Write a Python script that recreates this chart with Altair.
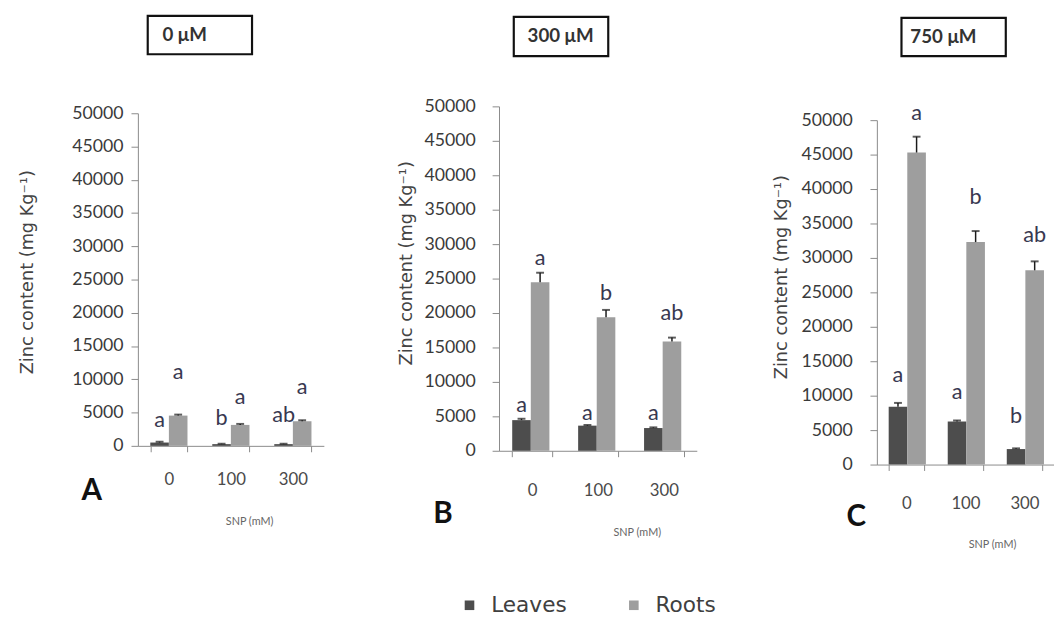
import altair as alt
import pandas as pd

# ---------------- data ----------------
snp_levels = ["0", "100", "300"]
tissues = ["Leaves", "Roots"]

# Panel A : 0 µM
a_leaves = [500, 260, 260]
a_leaves_err = [120, 60, 60]
a_roots = [4550, 3150, 3700]
a_roots_err = [150, 150, 150]
a_leaves_letters = ["a", "b", "ab"]
a_roots_letters = ["a", "a", "a"]
a_leaves_letter_y = [3900, 4100, 4600]
a_roots_letter_y = [11100, 7400, 8900]

# Panel B : 300 µM
b_leaves = [4450, 3650, 3300]
b_leaves_err = [200, 100, 100]
b_roots = [24450, 19400, 15850]
b_roots_err = [1400, 1050, 580]
b_leaves_letters = ["a", "a", "a"]
b_roots_letters = ["a", "b", "ab"]
b_leaves_letter_y = [6600, 5500, 5500]
b_roots_letter_y = [27900, 22900, 20000]

# Panel C : 750 µM
c_leaves = [8400, 6250, 2250]
c_leaves_err = [550, 150, 100]
c_roots = [45300, 32300, 28200]
c_roots_err = [2300, 1600, 1300]
c_leaves_letters = ["a", "a", "b"]
c_roots_letters = ["a", "b", "ab"]
c_leaves_letter_y = [13000, 10500, 7000]
c_roots_letter_y = [51000, 38800, 33300]

titles = ["0 μM", "300 μM", "750 μM"]
panel_letters = ["A", "B", "C"]
y_ticks = [0, 5000, 10000, 15000, 20000, 25000, 30000, 35000, 40000, 45000, 50000]


def table(leaves, leaves_err, roots, roots_err, l_let, r_let, l_y, r_y):
    rows = []
    for i, s in enumerate(snp_levels):
        rows.append(dict(snp=s, tissue="Leaves", value=leaves[i],
                         hi=leaves[i] + leaves_err[i], letter=l_let[i], ly=l_y[i]))
        rows.append(dict(snp=s, tissue="Roots", value=roots[i],
                         hi=roots[i] + roots_err[i], letter=r_let[i], ly=r_y[i]))
    return pd.DataFrame(rows)


dfs = [
    table(a_leaves, a_leaves_err, a_roots, a_roots_err,
          a_leaves_letters, a_roots_letters, a_leaves_letter_y, a_roots_letter_y),
    table(b_leaves, b_leaves_err, b_roots, b_roots_err,
          b_leaves_letters, b_roots_letters, b_leaves_letter_y, b_roots_letter_y),
    table(c_leaves, c_leaves_err, c_roots, c_roots_err,
          c_leaves_letters, c_roots_letters, c_leaves_letter_y, c_roots_letter_y),
]

# ---------------- layout / style ----------------
FONT = "Lato"
TITLE_FONT = "DejaVu Sans"
# h: view height (= y position of value 0), top: y position of 50000 inside the view
layout = [
    dict(w=189, h=345, top=7, box=(10, 116, -92, -53), box_tx=25, box_ty=-72,
         lab_pad=28, ylab_pad=8, letter_xy=(-47, 391), snp_xy=(113, 77),
         ytitle_x=-112, ytitle_shift=8),
    dict(w=201, h=350, top=0, box=(15, 111, -91, -51), box_tx=29, box_ty=-71,
         lab_pad=34, ylab_pad=17, letter_xy=(-57, 414), snp_xy=(140, 83),
         ytitle_x=-94, ytitle_shift=16),
    dict(w=180, h=364, top=14, box=(25, 131, -90, -51), box_tx=34, box_ty=-70,
         lab_pad=34, ylab_pad=18, letter_xy=(-21, 417), snp_xy=(117, 81),
         ytitle_x=-97, ytitle_shift=16),
]

color_scale = alt.Scale(domain=tissues, range=["#4d4d4d", "#9e9e9e"])


def panel(i):
    df = dfs[i]
    L = layout[i]
    yscale = alt.Scale(domain=[0, 50000], nice=False, range=[L["h"], L["top"]])
    yaxis = alt.Axis(
        title="Zinc content (mg Kg⁻¹)", values=y_ticks, format="d",
        labelOverlap=False, labelFontSize=18, labelColor="#3a3a3a",
        labelFont=FONT, labelPadding=L["ylab_pad"],
        tickSize=7, tickColor="#8a8a8a", domainColor="#8a8a8a", grid=False,
        titleFont=TITLE_FONT, titleFontSize=18, titleColor="#444444",
        titleFontWeight="normal", titleX=L["ytitle_x"],
        titleY=(L["h"] + L["top"]) / 2 - L["ytitle_shift"],
        titleBaseline="middle", titleAlign="center", titleAngle=270,
    )
    xenc = alt.X(
        "snp:N", sort=snp_levels,
        scale=alt.Scale(paddingInner=0.4, paddingOuter=0.2),
        axis=alt.Axis(
            title="SNP (mM)", labelAngle=0, labelFontSize=17, labelColor="#4a4a4a",
            labelFont=FONT, labelBaseline="middle", labelPadding=L["lab_pad"],
            tickBand="extent", tickSize=6, tickColor="#8a8a8a", domainColor="#8a8a8a",
            titleFont=FONT, titleFontSize=11, titleColor="#666666", titleFontWeight="normal",
            titleX=L["snp_xy"][0], titleY=L["snp_xy"][1], titleBaseline="middle",
            titleAlign="center", titleAnchor="start",
        ),
    )
    xoff = alt.XOffset("tissue:N", sort=tissues,
                       scale=alt.Scale(paddingInner=0, paddingOuter=0))
    base = alt.Chart(df).encode(x=xenc, xOffset=xoff)

    bars = base.mark_bar().encode(
        y=alt.Y("value:Q", scale=yscale, axis=yaxis),
        color=alt.Color("tissue:N", scale=color_scale, title=None, legend=alt.Legend(
            orient="none", direction="horizontal", legendX=326, legendY=496,
            symbolType="square", symbolSize=95, symbolStrokeWidth=0,
            labelFontSize=22, labelFont=TITLE_FONT, labelColor="#404040",
            labelOffset=11, columnPadding=57, padding=0,
        )),
    )
    err = base.mark_rule(color="#1a1a1a", strokeWidth=1.5).encode(
        y=alt.Y("value:Q", scale=yscale, axis=yaxis), y2="hi:Q")
    caps = base.mark_tick(color="#1a1a1a", thickness=2, size=8).encode(
        y=alt.Y("hi:Q", scale=yscale, axis=yaxis))
    letters = base.mark_text(fontSize=22, font=FONT, color="#383850",
                             baseline="middle").encode(
        y=alt.Y("ly:Q", scale=yscale, axis=yaxis), text="letter:N")

    deco_df = pd.DataFrame({"t": [titles[i]], "p": [panel_letters[i]]})
    deco = alt.Chart(deco_df)
    bx0, bx1, by0, by1 = L["box"]
    box = deco.mark_rect(fill="white", stroke="#111111", strokeWidth=2.2).encode(
        x=alt.value(bx0), x2=alt.value(bx1), y=alt.value(by0), y2=alt.value(by1))
    box_text = deco.mark_text(align="left", baseline="middle", fontSize=19,
                              font=FONT, fontWeight="bold", color="#333333").encode(
        x=alt.value(L["box_tx"]), y=alt.value(L["box_ty"]), text="t:N")
    plab = deco.mark_text(align="center", baseline="middle", fontSize=30,
                          font=FONT, fontWeight="bold", color="#111111").encode(
        x=alt.value(L["letter_xy"][0]), y=alt.value(L["letter_xy"][1]), text="p:N")

    return alt.layer(bars, err, caps, letters, box, box_text, plab).properties(
        width=L["w"], height=L["h"])


pA, pB, pC = panel(0), panel(1), panel(2)

chart = alt.hconcat(
    alt.hconcat(pA, pB, spacing=75),
    pC,
    spacing=77,
).properties(
    padding={"left": 11, "top": 1, "right": 0, "bottom": 0}
).configure_view(stroke=None).configure_axis(labelFont=FONT)

chart.save("out.html", embed_options={"renderer": "svg", "actions": False})
